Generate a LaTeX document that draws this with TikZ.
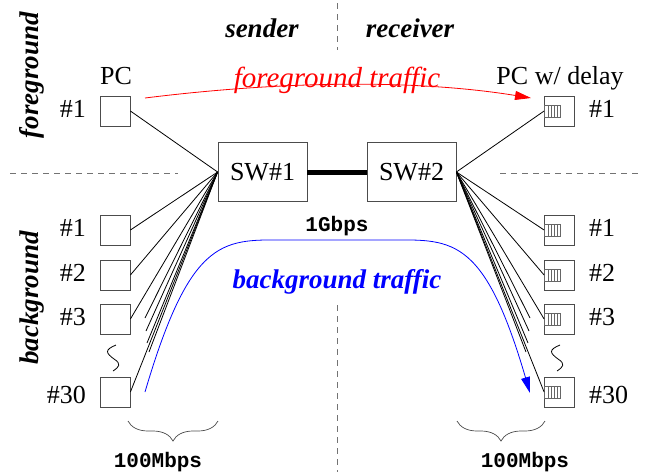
\documentclass[tikz,border=0pt]{standalone}
\usepackage{fontspec}
\setmainfont{Liberation Serif}
\setmonofont{Liberation Mono}
\usetikzlibrary{arrows.meta,decorations.pathreplacing,calc}
\begin{document}
\begin{tikzpicture}[x=1pt,y=-1pt,
  hostbox/.style={draw=black!70, line width=0.8pt, minimum width=30pt, minimum height=30pt, inner sep=0pt},
  swbox/.style={draw=black!70, line width=0.8pt, minimum width=89pt, minimum height=59pt, inner sep=0pt, font=\fontsize{26}{30}\selectfont},
  lab/.style={font=\fontsize{26}{30}\selectfont, inner sep=0pt},
  side/.style={font=\fontsize{27}{30}\selectfont\bfseries\itshape, inner sep=0pt},
  mono/.style={font=\fontsize{21}{24}\selectfont\ttfamily\bfseries, inner sep=0pt},
  sep/.style={draw=black!55, line width=0.8pt, dash pattern=on 6pt off 5pt},
  link/.style={draw=black, line width=0.8pt},
  queue/.style={draw=black!60, line width=0.5pt},
  flow/.style={line width=0.8pt, -{Triangle[length=16pt,width=9pt]}}
]
\useasboundingbox (0,0) rectangle (645,472);

% separators
\coordinate (vt1) at (337,3);  \coordinate (vt2) at (337,50);
\coordinate (vb1) at (337,305); \coordinate (vb2) at (337,472);
\coordinate (hl1) at (10,173); \coordinate (hl2) at (178,173);
\coordinate (hr1) at (500,173); \coordinate (hr2) at (640,173);
\draw[sep] (vt1) -- (vt2);
\draw[sep] (vb1) -- (vb2);
\draw[sep] (hl1) -- (hl2);
\draw[sep] (hr1) -- (hr2);

% side labels
\node[side, rotate=90] (fg) at (32,75) {foreground};
\node[side, rotate=90] (bg) at (32,298) {background};
\node[side, anchor=base] (snd) at (262,37) {sender};
\node[side, anchor=base] (rcv) at (410,37) {receiver};

% switches
\node[swbox] (sw1) at (262.5,172) {SW\#1};
\node[swbox] (sw2) at (411.5,172) {SW\#2};
\draw[line width=5pt] (sw1.east) -- (sw2.east -| sw2.west);
\node[mono, anchor=base] (gb) at (337,231) {1Gbps};

% left hosts
\node[hostbox] (lpc) at (115,111) {};
\node[hostbox] (l1) at (115,230) {};
\node[hostbox] (l2) at (115,275) {};
\node[hostbox] (l3) at (115,319) {};
\node[hostbox] (l30) at (115,392) {};
\node[lab, anchor=base] (lpct) at (116,84) {PC};
\node[lab, anchor=base east] (lpcn) at (86,117) {\#1};
\node[lab, anchor=base east] (l1n) at (86,236) {\#1};
\node[lab, anchor=base east] (l2n) at (86,281) {\#2};
\node[lab, anchor=base east] (l3n) at (86,325) {\#3};
\node[lab, anchor=base east] (l30n) at (86,403) {\#30};

% right hosts
\node[hostbox] (rpc) at (559.5,111) {};
\node[hostbox] (r1) at (559.5,230) {};
\node[hostbox] (r2) at (559.5,275) {};
\node[hostbox] (r3) at (559.5,319) {};
\node[hostbox] (r30) at (559.5,392) {};
\node[lab, anchor=base] (rpct) at (560,84) {PC w/ delay};
\node[lab, anchor=base west] (rpcn) at (589,117) {\#1};
\node[lab, anchor=base west] (r1n) at (589,236) {\#1};
\node[lab, anchor=base west] (r2n) at (589,281) {\#2};
\node[lab, anchor=base west] (r3n) at (589,325) {\#3};
\node[lab, anchor=base west] (r30n) at (589,403) {\#30};

% queues in the delaying hosts
\foreach \n in {rpc,r1,r2,r3,r30}{
  \draw[queue] ($(\n.west)+(0,-6)$) rectangle ($(\n.west)+(16,6)$);
  \foreach \d in {4,7,10,13}{
    \draw[queue] ($(\n.west)+(\d,-6)$) -- ($(\n.west)+(\d,6)$);
  }
}

% links left
\foreach \n in {lpc,l1,l2,l3,l30}{
  \draw[link] (sw1.west) -- (\n.east);
}
\coordinate (lf1) at (145,318);
\coordinate (lf2) at (146,331);
\coordinate (lf3) at (147,343);
\coordinate (lf4) at (149,352);
\foreach \n in {lf1,lf2,lf3,lf4}{
  \draw[link] (sw1.west) -- (\n);
}
% links right
\foreach \n in {rpc,r1,r2,r3,r30}{
  \draw[link] (sw2.east) -- (\n.west);
}
\coordinate (rf1) at (530,318);
\coordinate (rf2) at (529,331);
\coordinate (rf3) at (528,343);
\coordinate (rf4) at (526,352);
\foreach \n in {rf1,rf2,rf3,rf4}{
  \draw[link] (sw2.east) -- (\n);
}

% ellipsis squiggles
\coordinate (ls) at (116,345);
\coordinate (rs) at (560,345);
\draw[line width=0.8pt] (ls) .. controls +(-12,5) and +(-8,-6) .. +(-2,14) .. controls +(8,5) and +(6,-4) .. +(-3,26);
\draw[line width=0.8pt] (rs) .. controls +(-12,5) and +(-8,-6) .. +(-2,14) .. controls +(8,5) and +(6,-4) .. +(-3,26);

% foreground traffic
\coordinate (fs) at (145,98);
\coordinate (fe) at (531,98);
\draw[flow, red] (fs) .. controls (290,80) and (420,80) .. (fe);
\node[font=\fontsize{29}{32}\selectfont\itshape, text=red, inner sep=0pt, anchor=base] (fgt) at (337,87) {foreground traffic};

% background traffic
\coordinate (bs) at (145,392);
\coordinate (be) at (530,393);
\draw[flow, blue] (bs) .. controls (192,232) and (225,240) .. (290,240) -- (385,240) .. controls (450,240) and (483,232) .. (be);
\node[side, text=blue, anchor=base] (bgt) at (337,288) {background traffic};

% braces
\coordinate (b1a) at (128,421); \coordinate (b1b) at (218,421);
\coordinate (b2a) at (457,421); \coordinate (b2b) at (545,421);
\draw[black!70, line width=0.7pt, decorate, decoration={brace, amplitude=20pt, mirror}] (b1a) -- (b1b);
\draw[black!70, line width=0.7pt, decorate, decoration={brace, amplitude=20pt, mirror}] (b2a) -- (b2b);
\node[mono, anchor=base] (m1) at (158,467) {100Mbps};
\node[mono, anchor=base] (m2) at (525,467) {100Mbps};
\end{tikzpicture}
\end{document}
